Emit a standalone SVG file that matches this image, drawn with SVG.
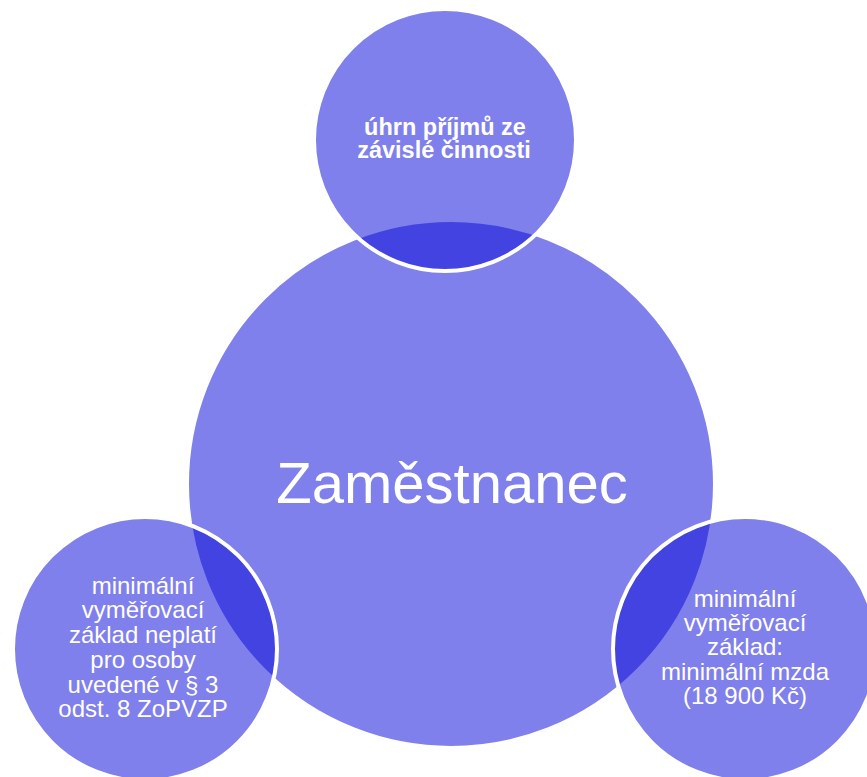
<svg xmlns="http://www.w3.org/2000/svg" width="867" height="777" viewBox="0 0 867 777">
  <style>
    .c { fill: rgb(9,11,217); fill-opacity: 0.52; stroke: #ffffff; stroke-width: 4; }
    .t { font-family: "Liberation Sans", Arial, sans-serif; fill: #ffffff; text-anchor: middle; }
    .b { font-weight: bold; font-size: 23.5px; }
    .r { font-size: 24px; }
    .big { font-size: 58px; }
  </style>
  <rect width="867" height="777" fill="#ffffff"/>
  <g id="node-center">
    <circle class="c" cx="451" cy="484" r="264"/>
    <text class="t big" x="452" y="503">Zaměstnanec</text>
  </g>
  <g id="node-top">
    <circle class="c" cx="445" cy="140" r="131"/>
    <text class="t b" x="445" y="135">úhrn příjmů ze</text>
    <text class="t b" x="444" y="158">závislé činnosti</text>
  </g>
  <g id="node-left">
    <circle class="c" cx="145" cy="649" r="132"/>
    <text class="t r" x="143" y="594">minimální</text>
    <text class="t r" x="143" y="618">vyměřovací</text>
    <text class="t r" x="143" y="643">základ neplatí</text>
    <text class="t r" x="143" y="668">pro osoby</text>
    <text class="t r" x="143" y="693">uvedené v § 3</text>
    <text class="t r" x="143" y="717">odst. 8 ZoPVZP</text>
  </g>
  <g id="node-right">
    <circle class="c" cx="745" cy="649" r="132"/>
    <text class="t r" x="745" y="607">minimální</text>
    <text class="t r" x="745" y="631">vyměřovací</text>
    <text class="t r" x="745" y="655">základ:</text>
    <text class="t r" x="745" y="680">minimální mzda</text>
    <text class="t r" x="745" y="704">(18 900 Kč)</text>
  </g>
  <g id="connectors"></g>
</svg>
